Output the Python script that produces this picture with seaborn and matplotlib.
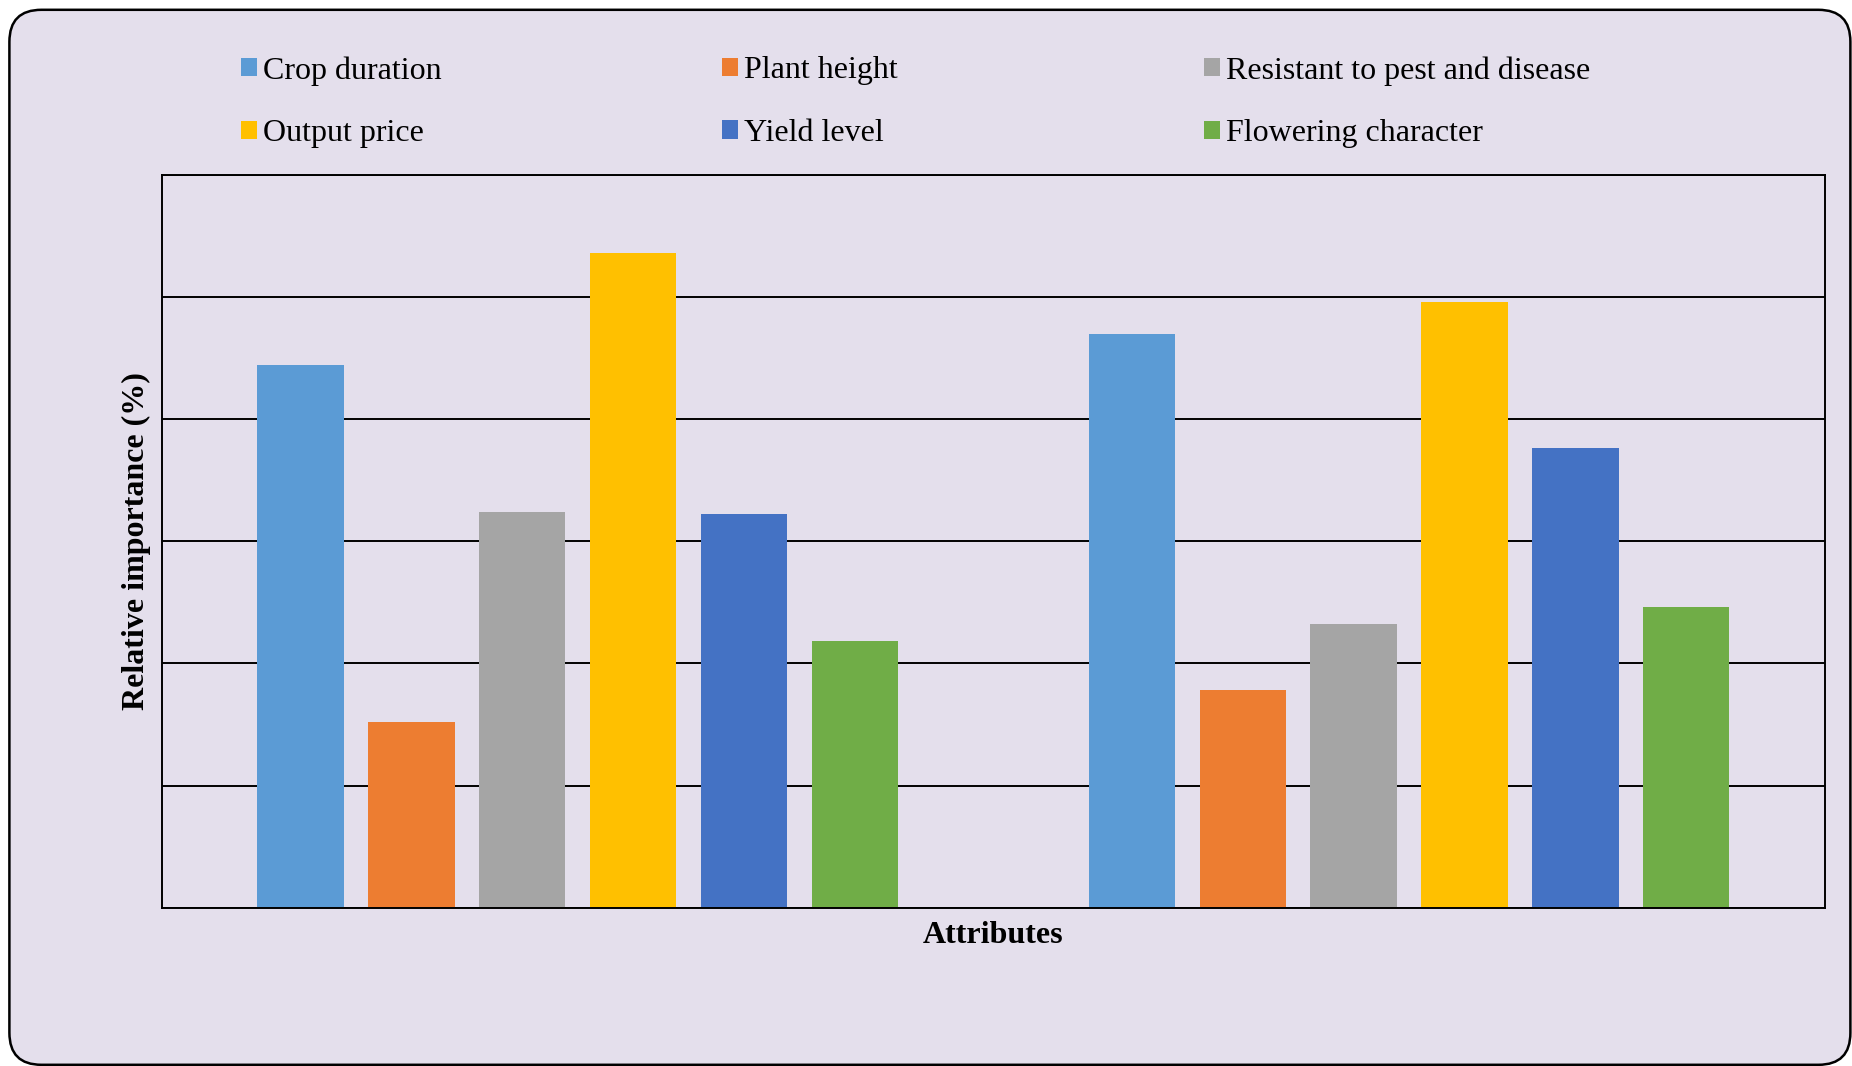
import matplotlib
matplotlib.use("Agg")
import matplotlib.pyplot as plt
from matplotlib.patches import FancyBboxPatch
import seaborn as sns
import pandas as pd

# relative importance (%) of each attribute, two respondent groups
groups = ["Group 1", "Group 2"]
attributes = [
    "Crop duration",
    "Plant height",
    "Resistant to pest and disease",
    "Output price",
    "Yield level",
    "Flowering character",
]
group1_values = [22.2, 7.6, 16.2, 26.8, 16.1, 10.9]
group2_values = [23.5, 8.9, 11.6, 24.8, 18.8, 12.3]
colors = ["#5B9BD5", "#ED7D31", "#A5A5A5", "#FFC000", "#4472C4", "#70AD47"]
yticks = [0, 5, 10, 15, 20, 25, 30]

rows = []
for g, vals in zip(groups, [group1_values, group2_values]):
    for a, v in zip(attributes, vals):
        rows.append({"group": g, "attribute": a, "value": v})
df = pd.DataFrame(rows)

sns.set_theme(style="white")
plt.rcParams["font.family"] = ["Liberation Serif", "DejaVu Serif"]
plt.rcParams["text.color"] = "black"
plt.rcParams["axes.labelcolor"] = "black"

fig = plt.figure(figsize=(18.52, 10.66), dpi=100, facecolor="white")

# rounded lavender panel behind everything
panel = FancyBboxPatch(
    (0.094, 0.012), 18.41, 10.55,
    boxstyle="round,pad=0,rounding_size=0.32",
    transform=fig.dpi_scale_trans,
    facecolor="#E4DFEC", edgecolor="black", linewidth=1.8, zorder=-1,
)
fig.patches.append(panel)

ax = fig.add_axes([0.0874, 0.1484, 0.8979, 0.6877])
ax.set_facecolor("none")

sns.barplot(
    data=df, x="group", y="value", hue="attribute",
    hue_order=attributes, palette=colors,
    width=0.8, gap=0.22, linewidth=0, saturation=1,
    errorbar=None, ax=ax,
)

ax.set_ylim(0, 30)
ax.set_yticks(yticks)
ax.set_yticklabels([])
ax.set_xticklabels([])
ax.tick_params(length=0)
ax.set_axisbelow(True)
ax.grid(axis="y", color="black", linewidth=1.4)
for s in ax.spines.values():
    s.set_visible(True)
    s.set_color("black")
    s.set_linewidth(1.4)

ax.set_xlabel("Attributes", fontsize=23, fontweight="bold", labelpad=6)
ax.set_ylabel("Relative importance (%)", fontsize=23, fontweight="bold", labelpad=4)

# legend: three equal-width columns, two rows (like the Excel legend)
handles, labels = ax.get_legend_handles_labels()
ax.get_legend().remove()
col_x = [0.130, 0.3897, 0.6499]
for c, x in enumerate(col_x):
    leg = fig.legend(
        [handles[c], handles[c + 3]], [labels[c], labels[c + 3]],
        ncol=1, frameon=False, fontsize=23,
        loc="center left", bbox_to_anchor=(x, 0.9042),
        bbox_transform=fig.transFigure,
        handlelength=0.5, handleheight=0.5, handletextpad=0.2,
        labelspacing=1.05, borderpad=0, borderaxespad=0,
    )

fig.savefig("out.png", dpi=100, facecolor="white")
